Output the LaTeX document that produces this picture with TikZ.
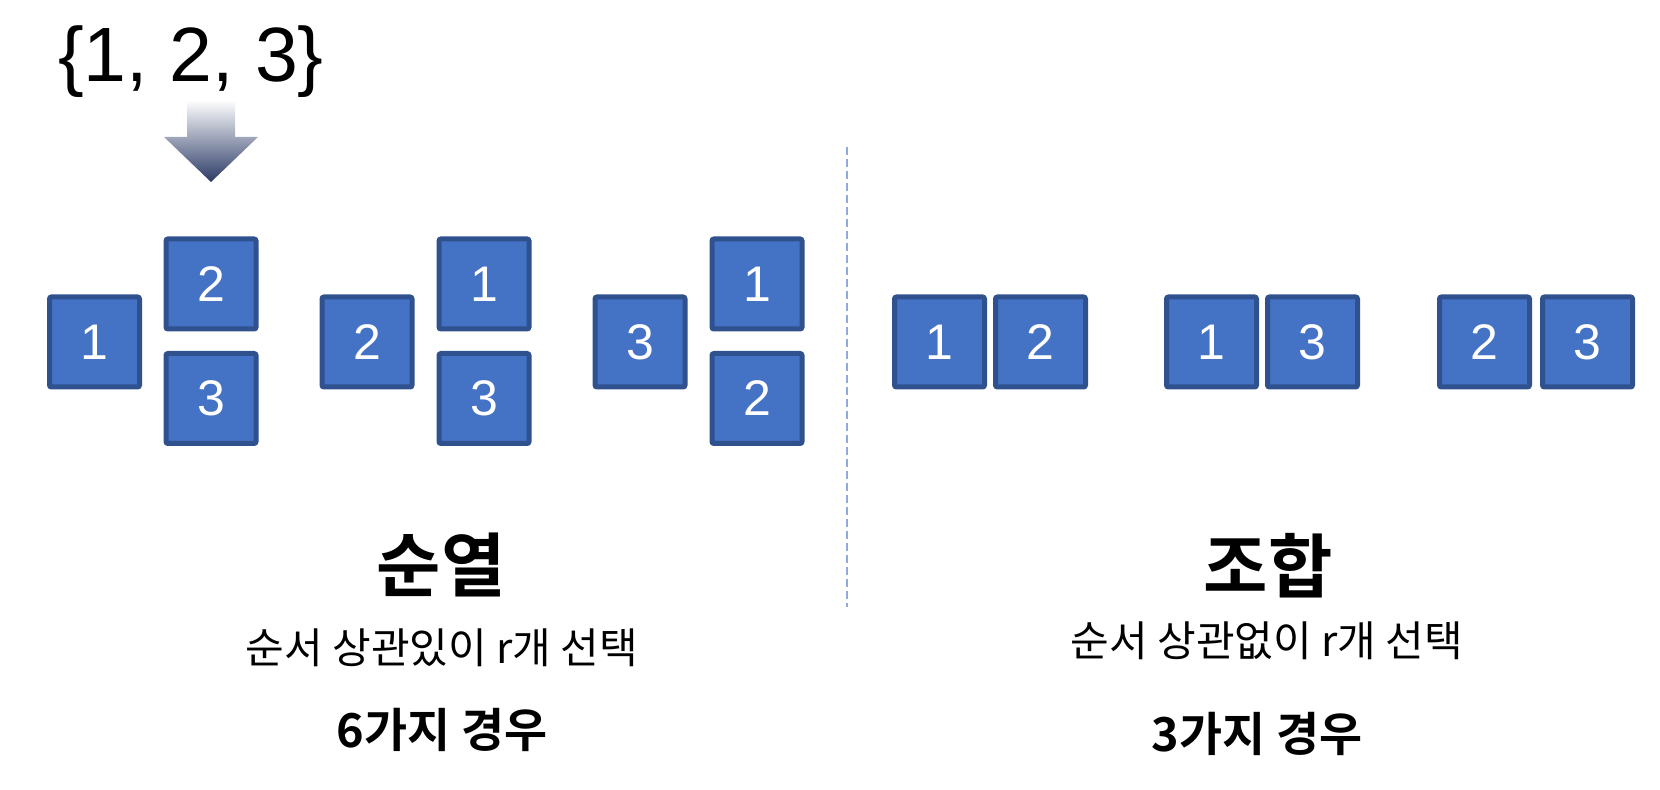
\documentclass[tikz,border=0pt]{standalone}
\usepackage{fontspec}
\setmainfont{Liberation Sans}
\newfontfamily\kr{Noto Sans CJK KR}
\newfontfamily\krb{Noto Sans CJK KR Bold}
\definecolor{boxfill}{HTML}{4472C4}
\definecolor{boxline}{HTML}{2F528F}
\definecolor{dashcol}{HTML}{8FAADC}
\definecolor{arrowdark}{HTML}{2B3A66}
\begin{document}
\begin{tikzpicture}[x=0.5pt,y=-0.5pt,
  numbox/.style={draw=boxline,fill=boxfill,line width=2.5pt,rounded corners=1pt,
    minimum width=45pt,minimum height=45pt,inner sep=0pt,text=white,
    font=\fontsize{25}{25}\selectfont},
  title/.style={font=\krb\fontsize{35}{35}\selectfont},
  sub/.style={font=\kr\fontsize{21}{21}\selectfont},
  cnt/.style={font=\krb\fontsize{23.4}{23.4}\selectfont}]
\useasboundingbox (0,0) rectangle (1660,790);
% set
\node[anchor=base,font=\fontsize{38.5}{38.5}\selectfont,inner sep=0pt] (set) at (191,82) {\{1, 2, 3\}};
% gradient arrow
\shade[top color=white,bottom color=arrowdark]
  (187,100) -- (235,100) -- (235,137) -- (258,137) -- (211,182) -- (164,137) -- (187,137) -- cycle;
% permutations
\node[numbox] (p11) at (94.5,342) {1};
\node[numbox] (p12) at (211,284) {2};
\node[numbox] (p13) at (211,398.5) {3};
\node[numbox] (p21) at (367,342) {2};
\node[numbox] (p22) at (484,284) {1};
\node[numbox] (p23) at (484,398.5) {3};
\node[numbox] (p31) at (640,342) {3};
\node[numbox] (p32) at (757,284) {1};
\node[numbox] (p33) at (757,398.5) {2};
% divider
\coordinate (d1) at (847,147);
\coordinate (d2) at (847,607);
\draw[dashcol,line width=1pt,dash pattern=on 4pt off 2pt] (d1) -- (d2);
% combinations
\node[numbox] (c11) at (939.5,342) {1};
\node[numbox] (c12) at (1040.5,342) {2};
\node[numbox] (c21) at (1211.5,342) {1};
\node[numbox] (c22) at (1312.5,342) {3};
\node[numbox] (c31) at (1484.5,342) {2};
\node[numbox] (c32) at (1587.5,342) {3};
% texts
\node[title] (t1) at (441,564.5) {순열};
\node[sub] (s1) at (442,647.5) {순서 상관있이 r개 선택};
\node[cnt] (n1) at (442,730) {6가지 경우};
\node[title] (t2) at (1268,565.5) {조합};
\node[sub] (s2) at (1267,640.5) {순서 상관없이 r개 선택};
\node[cnt] (n2) at (1257,734) {3가지 경우};
\end{tikzpicture}
\end{document}
